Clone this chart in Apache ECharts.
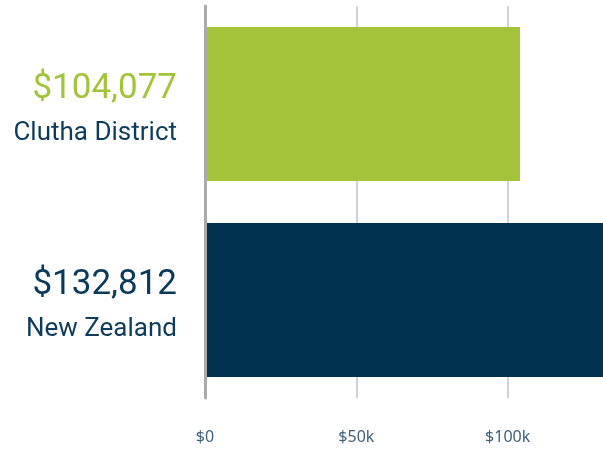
<!DOCTYPE html>
<html>
<head>
<meta charset="utf-8">
<script src="https://cdn.jsdelivr.net/npm/echarts@6/dist/echarts.min.js"></script>
<style>
  html, body { margin: 0; padding: 0; background: #ffffff; }
  #chart { width: 603px; height: 451px; }
</style>
</head>
<body>
<div id="chart"></div>
<script>
// Median household income by area
const areas = ['Clutha District', 'New Zealand'];
const incomes = [104077, 132812];
const barColors = ['#a3c43a', '#003250'];
const valueColors = ['#a3c43a', '#0a3a5a'];
const tickValues = [0, 50000, 100000];
const tickLabels = ['$0', '$50k', '$100k'];

const money = v => '$' + v.toLocaleString('en-US');

const chart = echarts.init(document.getElementById('chart'));
chart.setOption({
  animation: false,
  grid: { left: 205, right: 0, top: 6, bottom: 53, containLabel: false },
  xAxis: {
    type: 'value',
    min: 0,
    max: 131500,
    interval: 50000,
    axisLine: { show: false },
    axisTick: { show: false },
    splitLine: { show: true, showMaxLine: false, lineStyle: { color: '#d0d3d6', width: 2 } },
    axisLabel: {
      showMaxLabel: false,
      margin: 31,
      color: '#3f607a',
      fontFamily: 'Noto Sans',
      fontSize: 16,
      formatter: v => {
        const i = tickValues.indexOf(v);
        return i >= 0 ? tickLabels[i] : '';
      }
    }
  },
  yAxis: {
    type: 'category',
    data: areas,
    inverse: true,
    axisLine: { show: true, lineStyle: { color: '#a9aaab', width: 3 } },
    axisTick: { show: false },
    axisLabel: {
      margin: 28,
      align: 'right',
      formatter: (name, idx) => `{v${idx}|${money(incomes[idx])}}\n{n|${name}}`,
      rich: {
        v0: { color: valueColors[0], fontFamily: 'Roboto', fontSize: 35, lineHeight: 58, align: 'right' },
        v1: { color: valueColors[1], fontFamily: 'Roboto', fontSize: 35, lineHeight: 58, align: 'right' },
        n: { color: '#0d3b5b', fontFamily: 'Roboto', fontSize: 26, lineHeight: 30, align: 'right' }
      }
    },
    z: 5
  },
  series: [{
    type: 'bar',
    barWidth: '78.6%',
    clip: true,
    data: incomes.map((v, i) => ({ value: v, itemStyle: { color: barColors[i] } })),
    z: 2
  }]
});
</script>
</body>
</html>
